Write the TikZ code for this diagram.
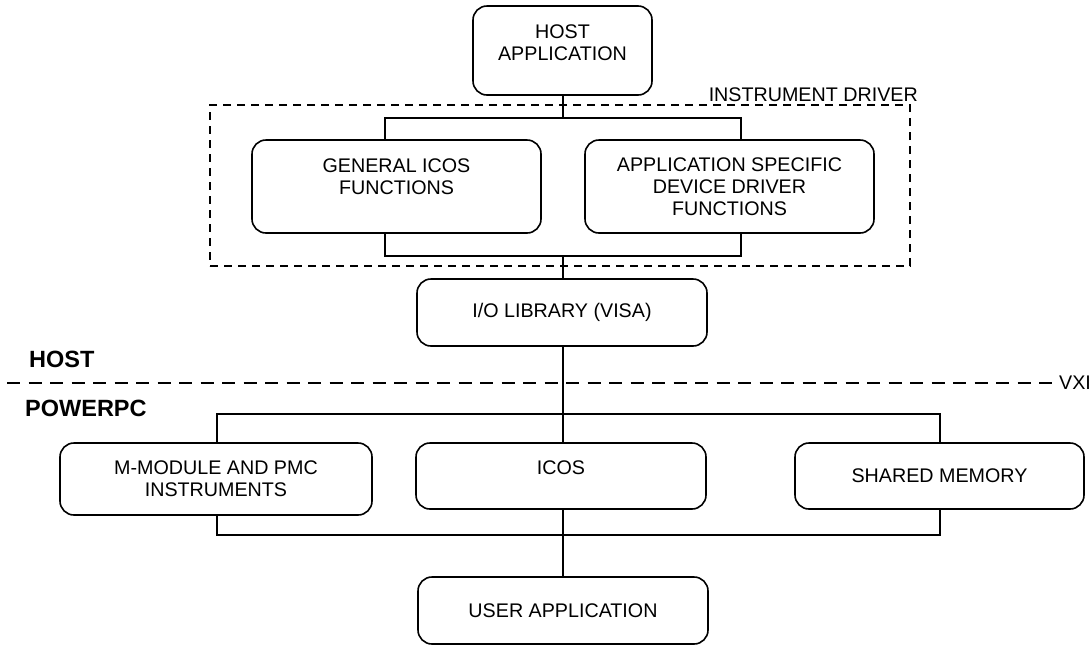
\documentclass[tikz,border=0pt]{standalone}
\usepackage{fontspec}
\setmainfont{Liberation Sans}
\begin{document}
\begin{tikzpicture}[x=1pt,y=-1pt,
  txt/.style={font=\fontsize{19.7}{22}\selectfont},
  boxnode/.style={txt, draw, line width=1.6pt, rounded corners=14pt, align=center, inner sep=0pt},
  conn/.style={line width=1.3pt},
  drvframe/.style={draw, line width=1.3pt, dash pattern=on 8pt off 6pt, inner sep=0pt},
  vxiline/.style={line width=1.5pt, dash pattern=on 13pt off 8.5pt},
  sidelabel/.style={font=\fontsize{23.5}{26}\selectfont\bfseries, inner sep=0pt}]
\useasboundingbox (0,0) rectangle (1092,646);

% frame of the instrument driver
\node[drvframe, minimum width=700pt, minimum height=161pt] (drv) at (560,185.5) {};
\node[txt, inner sep=0pt, anchor=base east] (drvlabel) at (918,101.5) {INSTRUMENT DRIVER};

% boxes
\node[boxnode, minimum width=179pt, minimum height=89pt] (host) at (562.5,50.5) {HOST\\APPLICATION\\[-7pt]\mbox{}};
\node[boxnode, minimum width=289pt, minimum height=93pt] (gen) at (396.5,186.5) {GENERAL ICOS\\FUNCTIONS\\[-3pt]\mbox{}};
\node[boxnode, minimum width=289pt, minimum height=93pt] (app) at (729.5,186.5) {APPLICATION SPECIFIC\\DEVICE DRIVER\\FUNCTIONS};
\node[boxnode, minimum width=290pt, minimum height=67pt] (io) at (562,312.5) {I/O LIBRARY (VISA)};
\node[boxnode, minimum width=312pt, minimum height=72pt] (mmod) at (216,479) {M-MODULE AND PMC\\INSTRUMENTS};
\node[boxnode, minimum width=290pt, minimum height=66pt] (icos) at (561,476) {ICOS\\[-6pt]\mbox{}};
\node[boxnode, minimum width=289pt, minimum height=66pt] (shm) at (939.5,476) {SHARED MEMORY};
\node[boxnode, minimum width=290pt, minimum height=67pt] (user) at (563,610.5) {USER APPLICATION};

% side labels and VXI boundary
\node[sidelabel, anchor=base west] (hostlbl) at (29,367.5) {HOST};
\node[sidelabel, anchor=base west] (ppclbl) at (25,416.5) {POWERPC};
\node[txt, inner sep=2pt, anchor=west] (vxi) at (1057,383) {VXI};
\coordinate (vxiL) at (7,383);
\draw[vxiline] (vxiL) -- (vxi.west);

% bus coordinates
\coordinate (spine) at (563,0);
\coordinate (busA) at (563,118);
\coordinate (busAl) at (385,118);
\coordinate (busAr) at (741,118);
\coordinate (busB) at (563,256);
\coordinate (busBl) at (385,256);
\coordinate (busBr) at (741,256);
\coordinate (busCl) at (217,414);
\coordinate (busCr) at (940,414);
\coordinate (busDl) at (217,535);
\coordinate (busDr) at (940,535);

% connectors
\draw[conn] (spine |- host.south) -- (busA);
\draw[conn] (busAl |- gen.north) -- (busAl) -- (busAr) -- (busAr |- app.north);
\draw[conn] (busBl |- gen.south) -- (busBl) -- (busBr) -- (busBr |- app.south);
\draw[conn] (busB) -- (spine |- io.north);
\draw[conn] (spine |- io.south) -- (spine |- icos.north);
\draw[conn] (busCl |- mmod.north) -- (busCl) -- (busCr) -- (busCr |- shm.north);
\draw[conn] (busDl |- mmod.south) -- (busDl) -- (busDr) -- (busDr |- shm.south);
\draw[conn] (spine |- icos.south) -- (spine |- user.north);
\end{tikzpicture}
\end{document}
